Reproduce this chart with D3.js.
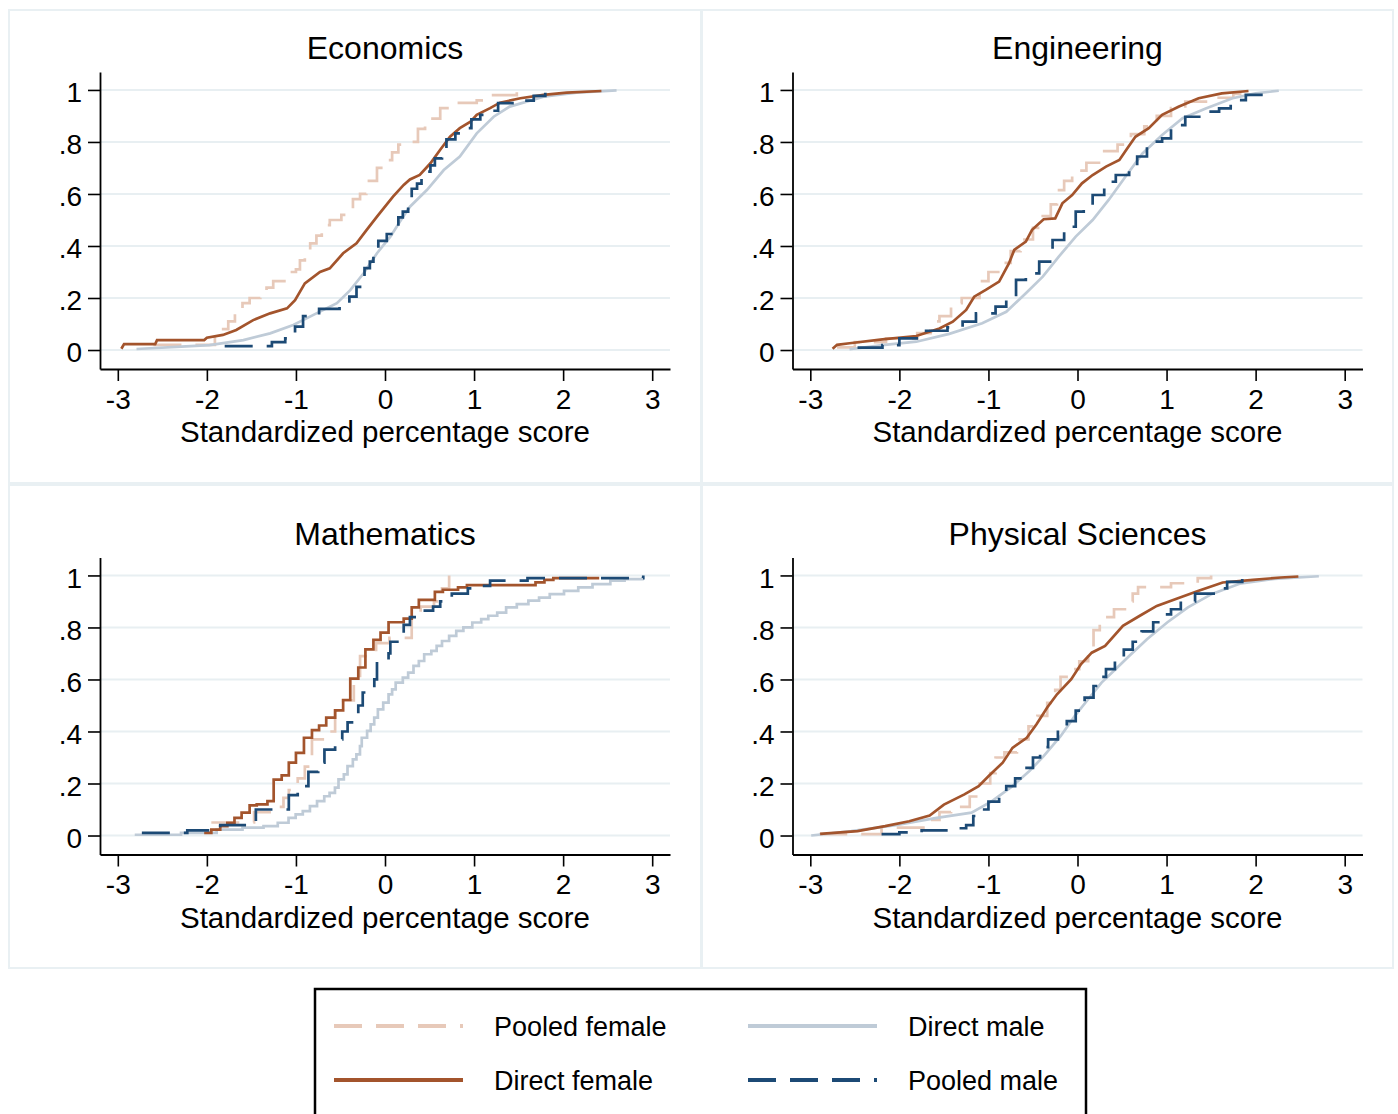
<!DOCTYPE html>
<html>
<head>
<meta charset="utf-8">
<script src="https://cdn.jsdelivr.net/npm/d3@7"></script>
<style>
  body { margin: 0; background: #fff; }
  svg { display: block; font-family: "Liberation Sans", Arial, Helvetica, sans-serif; }
</style>
</head>
<body>
<svg width="1398" height="1114"></svg>
<script>
// tick values / labels
const xTicks = [-3, -2, -1, 0, 1, 2, 3];
const yTicks = [0, 0.2, 0.4, 0.6, 0.8, 1];
const yTickLabels = ["0", ".2", ".4", ".6", ".8", "1"];

const panelTitles = ["Economics", "Engineering", "Mathematics", "Physical Sciences"];
const seriesNames = ["Pooled female", "Direct male", "Direct female", "Pooled male"];

// ---- Economics ----
const econPooledFemale = [[-2.6,0.02],[-1.91,0.06],[-1.85,0.08],[-1.76,0.11],[-1.685,0.15],[-1.6,0.18],[-1.52,0.2],[-1.40,0.22],[-1.33,0.24],[-1.255,0.265],[-1.10,0.30],[-1.0,0.31],[-0.955,0.345],[-0.90,0.37],[-0.84,0.41],[-0.77,0.44],[-0.71,0.48],[-0.62,0.50],[-0.49,0.52],[-0.43,0.55],[-0.36,0.58],[-0.28,0.60],[-0.21,0.65],[-0.09,0.70],[0.02,0.73],[0.08,0.76],[0.15,0.79],[0.24,0.80],[0.37,0.85],[0.45,0.89],[0.62,0.93],[0.77,0.95],[1.03,0.96],[1.18,0.98],[1.48,1.0]];
const econDirectMale = [[-2.79,0.004],[-2.34,0.012],[-1.97,0.019],[-1.59,0.038],[-1.29,0.064],[-1.03,0.096],[-0.77,0.141],[-0.54,0.18],[-0.39,0.23],[-0.24,0.295],[-0.09,0.372],[0.06,0.436],[0.19,0.506],[0.28,0.551],[0.47,0.615],[0.66,0.692],[0.84,0.744],[1.03,0.833],[1.22,0.897],[1.40,0.936],[1.78,0.974],[2.15,0.99],[2.60,0.998]];
const econDirectFemale = [[-2.96,0.005],[-2.93,0.023],[-2.58,0.023],[-2.56,0.038],[-2.03,0.038],[-2.0,0.047],[-1.82,0.058],[-1.67,0.077],[-1.48,0.115],[-1.29,0.141],[-1.10,0.160],[-1.01,0.192],[-0.90,0.256],[-0.73,0.30],[-0.62,0.314],[-0.47,0.372],[-0.32,0.41],[-0.21,0.46],[-0.09,0.513],[0.0,0.551],[0.09,0.59],[0.21,0.635],[0.28,0.656],[0.39,0.673],[0.51,0.718],[0.62,0.77],[0.73,0.82],[0.84,0.853],[0.96,0.878],[1.03,0.904],[1.18,0.93],[1.29,0.951],[1.52,0.968],[1.78,0.981],[2.04,0.99],[2.43,0.996]];
const econPooledMale = [[-1.80,0.015],[-1.27,0.03],[-1.12,0.045],[-1.01,0.09],[-0.92,0.13],[-0.74,0.158],[-0.51,0.18],[-0.40,0.205],[-0.32,0.243],[-0.26,0.27],[-0.23,0.315],[-0.17,0.34],[-0.13,0.378],[-0.075,0.42],[0.02,0.446],[0.09,0.46],[0.15,0.51],[0.20,0.532],[0.26,0.57],[0.30,0.62],[0.36,0.64],[0.41,0.686],[0.51,0.71],[0.56,0.737],[0.64,0.77],[0.69,0.81],[0.79,0.833],[0.86,0.853],[0.97,0.887],[1.07,0.904],[1.16,0.92],[1.27,0.949],[1.50,0.959],[1.67,0.977],[1.80,0.993],[1.83,1.0]];

// ---- Engineering ----
const engPooledFemale = [[-2.7,0.01],[-2.5,0.03],[-2.15,0.045],[-1.80,0.065],[-1.65,0.11],[-1.55,0.13],[-1.42,0.18],[-1.3,0.2],[-1.10,0.265],[-1.0,0.30],[-0.84,0.335],[-0.75,0.38],[-0.64,0.425],[-0.5,0.47],[-0.39,0.515],[-0.3,0.56],[-0.23,0.615],[-0.15,0.65],[-0.06,0.69],[0.1,0.72],[0.30,0.765],[0.45,0.79],[0.60,0.83],[0.75,0.86],[0.89,0.90],[1.05,0.93],[1.21,0.955],[1.5,0.97],[1.75,0.985],[1.95,1.0]];
const engDirectMale = [[-2.56,0.003],[-2.19,0.019],[-1.81,0.032],[-1.44,0.062],[-1.07,0.103],[-0.80,0.147],[-0.58,0.218],[-0.39,0.282],[-0.21,0.359],[-0.02,0.436],[0.17,0.5],[0.35,0.577],[0.54,0.667],[0.73,0.756],[0.95,0.827],[1.18,0.891],[1.44,0.929],[1.74,0.968],[2.0,0.987],[2.26,0.997]];
const engDirectFemale = [[-2.75,0.005],[-2.70,0.02],[-2.56,0.026],[-2.19,0.041],[-1.81,0.054],[-1.55,0.083],[-1.40,0.109],[-1.25,0.154],[-1.16,0.205],[-1.03,0.231],[-0.88,0.263],[-0.77,0.333],[-0.71,0.385],[-0.58,0.417],[-0.51,0.462],[-0.38,0.503],[-0.25,0.506],[-0.17,0.564],[-0.06,0.596],[0.05,0.641],[0.17,0.673],[0.32,0.705],[0.47,0.731],[0.56,0.776],[0.65,0.82],[0.80,0.853],[0.95,0.904],[1.14,0.936],[1.36,0.968],[1.62,0.987],[1.92,0.996]];
const engPooledMale = [[-2.47,0.009],[-2.19,0.019],[-2.0,0.045],[-1.70,0.074],[-1.46,0.087],[-1.29,0.109],[-1.14,0.141],[-0.92,0.167],[-0.80,0.199],[-0.69,0.27],[-0.58,0.295],[-0.43,0.34],[-0.28,0.423],[-0.15,0.474],[-0.02,0.532],[0.07,0.551],[0.17,0.596],[0.30,0.647],[0.43,0.673],[0.58,0.705],[0.67,0.744],[0.78,0.801],[0.95,0.814],[1.05,0.865],[1.21,0.897],[1.40,0.917],[1.59,0.929],[1.72,0.961],[1.89,0.981],[2.13,0.994]];

// ---- Mathematics ----
const mathPooledFemale = [[-1.95,0.05],[-1.47,0.09],[-1.26,0.11],[-1.14,0.145],[-1.08,0.175],[-0.98,0.22],[-0.90,0.265],[-0.82,0.37],[-0.66,0.40],[-0.56,0.48],[-0.47,0.52],[-0.35,0.60],[-0.28,0.69],[-0.10,0.74],[0.05,0.76],[0.30,0.84],[0.40,0.88],[0.55,0.90],[0.64,0.95],[0.72,1.0]];
const mathDirectMale = [[-2.81,0.003],[-2.29,0.01],[-1.89,0.023],[-1.60,0.03],[-1.364,0.036],[-1.204,0.049],[-1.083,0.068],[-1.003,0.081],[-0.923,0.094],[-0.843,0.113],[-0.763,0.132],[-0.682,0.151],[-0.622,0.164],[-0.562,0.184],[-0.522,0.216],[-0.462,0.235],[-0.421,0.267],[-0.361,0.293],[-0.321,0.312],[-0.281,0.344],[-0.261,0.376],[-0.201,0.402],[-0.161,0.427],[-0.121,0.453],[-0.08,0.485],[-0.02,0.511],[0.04,0.543],[0.08,0.562],[0.12,0.588],[0.20,0.607],[0.26,0.626],[0.32,0.652],[0.38,0.671],[0.44,0.697],[0.52,0.71],[0.58,0.729],[0.64,0.748],[0.72,0.768],[0.80,0.787],[0.88,0.80],[0.98,0.819],[1.08,0.832],[1.16,0.845],[1.26,0.857],[1.36,0.877],[1.48,0.89],[1.61,0.903],[1.73,0.915],[1.85,0.928],[2.01,0.941],[2.17,0.954],[2.33,0.967],[2.53,0.98],[2.69,0.986],[2.89,0.995]];
const mathDirectFemale = [[-2.03,0.01],[-1.95,0.023],[-1.85,0.036],[-1.77,0.049],[-1.69,0.068],[-1.61,0.088],[-1.52,0.116],[-1.44,0.12],[-1.32,0.132],[-1.25,0.215],[-1.16,0.231],[-1.08,0.28],[-1.00,0.318],[-0.91,0.376],[-0.82,0.405],[-0.74,0.423],[-0.66,0.453],[-0.56,0.481],[-0.47,0.521],[-0.39,0.603],[-0.30,0.646],[-0.22,0.716],[-0.13,0.752],[-0.05,0.78],[0.04,0.82],[0.21,0.834],[0.30,0.877],[0.38,0.906],[0.56,0.937],[0.65,0.945],[0.82,0.954],[0.92,0.963],[1.69,0.973],[1.79,0.983],[1.89,0.99],[2.39,0.995]];
const mathPooledMale = [[-2.73,0.01],[-2.22,0.02],[-1.85,0.04],[-1.45,0.10],[-1.08,0.155],[-0.98,0.19],[-0.86,0.245],[-0.75,0.28],[-0.68,0.33],[-0.56,0.37],[-0.48,0.40],[-0.42,0.435],[-0.30,0.50],[-0.25,0.55],[-0.12,0.60],[-0.09,0.67],[0.04,0.70],[0.06,0.745],[0.21,0.81],[0.28,0.84],[0.42,0.865],[0.54,0.88],[0.62,0.90],[0.75,0.93],[0.93,0.95],[1.04,0.96],[1.18,0.98],[1.6,0.99],[2.9,1.0]];

// ---- Physical Sciences ----
const physPooledFemale = [[-2.9,0.005],[-2.2,0.03],[-1.7,0.06],[-1.55,0.09],[-1.42,0.11],[-1.21,0.15],[-1.1,0.2],[-0.98,0.24],[-0.92,0.30],[-0.82,0.32],[-0.68,0.37],[-0.55,0.42],[-0.45,0.46],[-0.34,0.51],[-0.25,0.56],[-0.19,0.61],[-0.05,0.64],[0.02,0.67],[0.12,0.72],[0.18,0.79],[0.25,0.84],[0.41,0.87],[0.55,0.90],[0.62,0.93],[0.68,0.955],[1.05,0.97],[1.35,0.99],[1.5,1.0]];
const physDirectMale = [[-2.99,0.0],[-2.54,0.017],[-2.04,0.04],[-1.58,0.068],[-1.19,0.088],[-0.96,0.132],[-0.73,0.19],[-0.54,0.248],[-0.38,0.305],[-0.19,0.382],[-0.03,0.46],[0.12,0.524],[0.27,0.588],[0.43,0.64],[0.58,0.69],[0.78,0.755],[1.01,0.82],[1.24,0.877],[1.51,0.929],[1.82,0.968],[2.21,0.987],[2.71,0.997]];
const physDirectFemale = [[-2.89,0.006],[-2.47,0.017],[-2.16,0.036],[-1.89,0.055],[-1.66,0.077],[-1.50,0.119],[-1.27,0.158],[-1.11,0.19],[-1.0,0.228],[-0.84,0.28],[-0.73,0.337],[-0.57,0.376],[-0.46,0.428],[-0.34,0.492],[-0.23,0.543],[-0.07,0.601],[0.04,0.659],[0.16,0.703],[0.31,0.729],[0.51,0.806],[0.70,0.845],[0.89,0.883],[1.12,0.911],[1.36,0.941],[1.63,0.973],[1.97,0.983],[2.28,0.992],[2.48,0.996]];
const physPooledMale = [[-2.2,0.005],[-2.0,0.012],[-1.75,0.02],[-1.45,0.028],[-1.25,0.04],[-1.17,0.075],[-1.08,0.1],[-1.0,0.13],[-0.88,0.155],[-0.8,0.19],[-0.7,0.22],[-0.6,0.26],[-0.5,0.30],[-0.42,0.34],[-0.33,0.37],[-0.22,0.405],[-0.12,0.44],[-0.02,0.48],[0.08,0.53],[0.18,0.575],[0.25,0.61],[0.32,0.64],[0.42,0.68],[0.52,0.715],[0.62,0.745],[0.72,0.785],[0.85,0.82],[0.95,0.85],[1.05,0.87],[1.16,0.90],[1.32,0.93],[1.55,0.95],[1.68,0.975],[1.85,0.99],[1.93,1.0]];

const panelSeries = [
  [econPooledFemale, econDirectMale, econDirectFemale, econPooledMale],
  [engPooledFemale, engDirectMale, engDirectFemale, engPooledMale],
  [mathPooledFemale, mathDirectMale, mathDirectFemale, mathPooledMale],
  [physPooledFemale, physDirectMale, physDirectFemale, physPooledMale]
];

// series look, same order as seriesNames
const seriesColors = ["#e7c9b9", "#bfcbd7", "#a3542c", "#1c4a75"];
const seriesDash = ["28,14", null, null, "28,14"];
// which panels draw direct series as visible steps
const stepAll = [false, false, true, false];

const svg = d3.select("svg");
const fontFamily = '"Liberation Sans", Arial, Helvetica, sans-serif';

// panel placement
const dx = 692.5, dy = 485.5;
const plot = { left: 100, right: 670, top: 72, bottom: 369 };

// panel frames
const frames = [[9, 10, 692, 473], [702, 10, 691, 473], [9, 485, 692, 483], [702, 485, 691, 483]];
frames.forEach(f => {
  svg.append("rect")
    .attr("x", f[0]).attr("y", f[1])
    .attr("width", f[2]).attr("height", f[3])
    .attr("fill", "none")
    .attr("stroke", "#e9f0f3")
    .attr("stroke-width", 2);
});

panelTitles.forEach((title, p) => {
  const col = p % 2, row = Math.floor(p / 2);
  const ox = col * dx, oy = row * dy;

  const x = d3.scaleLinear().domain([-3.2, 3.2]).range([plot.left + ox, plot.right + ox]);
  const y = d3.scaleLinear().domain([-0.073, 1.069]).range([plot.bottom + oy, plot.top + oy]);

  const g = svg.append("g");

  // gridlines
  g.selectAll(".grid")
    .data(yTicks)
    .enter().append("line")
    .attr("x1", plot.left + ox + 1)
    .attr("x2", plot.right + ox)
    .attr("y1", d => y(d))
    .attr("y2", d => y(d))
    .attr("stroke", "#e8eff2")
    .attr("stroke-width", 2);

  // series
  panelSeries[p].forEach((data, i) => {
    const stepped = seriesDash[i] !== null || stepAll[p];
    const line = d3.line()
      .x(d => x(d[0]))
      .y(d => y(d[1]))
      .curve(stepped ? d3.curveStepAfter : d3.curveLinear);

    g.append("path")
      .datum(data)
      .attr("fill", "none")
      .attr("stroke", seriesColors[i])
      .attr("stroke-width", 2.7)
      .attr("stroke-dasharray", seriesDash[i])
      .attr("d", line);
  });

  // axes
  const xAxis = g.append("g")
    .attr("transform", `translate(0,${plot.bottom + oy})`)
    .call(d3.axisBottom(x).tickValues(xTicks).tickFormat(d => String(d))
      .tickSize(12).tickSizeOuter(0).tickPadding(8));

  const yAxis = g.append("g")
    .attr("transform", `translate(${plot.left + ox},0)`)
    .call(d3.axisLeft(y).tickValues(yTicks).tickFormat((d, i) => yTickLabels[i])
      .tickSize(12).tickSizeOuter(0).tickPadding(6));

  [xAxis, yAxis].forEach(a => {
    a.select(".domain").attr("stroke", "#000").attr("stroke-width", 1.8);
    a.selectAll(".tick line").attr("stroke", "#000").attr("stroke-width", 1.6);
    a.selectAll(".tick text")
      .attr("fill", "#000")
      .style("font-size", "28px")
      .style("font-family", fontFamily);
  });
  yAxis.selectAll(".tick text").attr("dy", "0.42em");

  // title
  g.append("text")
    .attr("x", x(0))
    .attr("y", 59 + oy)
    .attr("text-anchor", "middle")
    .style("font-size", "32px")
    .text(title);

  // x-axis label
  g.append("text")
    .attr("x", x(0))
    .attr("y", 442 + oy)
    .attr("text-anchor", "middle")
    .style("font-size", "29.5px")
    .text("Standardized percentage score");
});

// legend
const legend = svg.append("g");
legend.append("rect")
  .attr("x", 315)
  .attr("y", 989)
  .attr("width", 771)
  .attr("height", 150)
  .attr("fill", "#fff")
  .attr("stroke", "#000")
  .attr("stroke-width", 2.5);

const legendPos = [[334, 1026], [748, 1026], [334, 1080], [748, 1080]];
seriesNames.forEach((name, i) => {
  const [lx, ly] = legendPos[i];
  legend.append("line")
    .attr("x1", lx).attr("x2", lx + 129)
    .attr("y1", ly).attr("y2", ly)
    .attr("stroke", seriesColors[i])
    .attr("stroke-width", 4)
    .attr("stroke-dasharray", seriesDash[i]);
  legend.append("text")
    .attr("x", lx + 160)
    .attr("y", ly + 10)
    .style("font-size", "27px")
    .text(name);
});
</script>
</body>
</html>
